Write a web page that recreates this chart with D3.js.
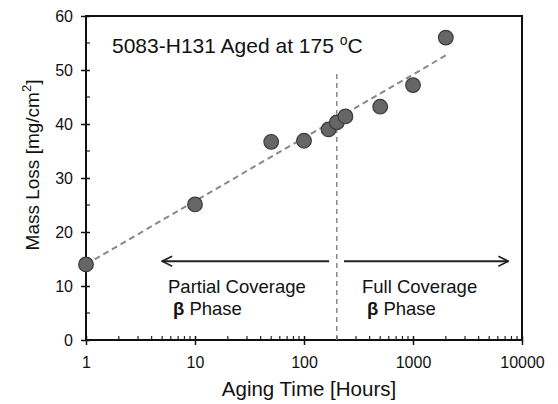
<!DOCTYPE html>
<html><head><meta charset="utf-8">
<script src="https://cdn.jsdelivr.net/npm/d3@7"></script>
<style>body{margin:0;background:#fff}svg{display:block}text{font-family:"Liberation Sans",Arial,sans-serif;fill:#111}</style>
</head><body><svg id="c" width="558" height="404"></svg>
<script>
const hours = [1, 10, 50, 100, 168, 200, 240, 500, 1000, 2000];
const massLoss = [14.0, 25.1, 36.7, 36.9, 39.0, 40.3, 41.4, 43.2, 47.2, 56.0];
const trendHours = [1, 2000];
const trendLoss = [14.0, 52.7];
const boundaryHours = 200;
const boundaryLoss = [0, 50];
const xTicks = [1, 10, 100, 1000, 10000];
const yTicks = [0, 10, 20, 30, 40, 50, 60];
const arrowLoss = 14.6;
const leftArrow = [170, 5];
const rightArrow = [233, 7500];

const svg = d3.select("#c");
const m = {l: 86, r: 522, t: 16, b: 340};
const x = d3.scaleLog().domain([1, 10000]).range([m.l, m.r]);
const y = d3.scaleLinear().domain([0, 60]).range([m.b, m.t]);

// minor ticks
const xMinor = [];
for (let d = 1; d < 10000; d *= 10) for (let k = 2; k <= 9; k++) xMinor.push(d * k);
svg.append("g").selectAll("line").data(xMinor).join("line")
  .attr("x1", d => x(d)).attr("x2", d => x(d)).attr("y1", m.b).attr("y2", m.b - 4)
  .attr("stroke", "#222").attr("stroke-width", 1.2);
const yMinor = d3.range(5, 60, 10);
svg.append("g").selectAll("line").data(yMinor).join("line")
  .attr("x1", m.l).attr("x2", m.l + 4).attr("y1", d => y(d)).attr("y2", d => y(d))
  .attr("stroke", "#222").attr("stroke-width", 1.2);

// frame
svg.append("rect").attr("x", m.l).attr("y", m.t).attr("width", m.r - m.l).attr("height", m.b - m.t)
  .attr("fill", "none").attr("stroke", "#111").attr("stroke-width", 2);

// axes
const xAxis = d3.axisBottom(x).tickValues(xTicks).tickFormat(d3.format("d")).tickSize(5).tickPadding(12);
const gx = svg.append("g").attr("transform", `translate(0,${m.b})`).call(xAxis);
gx.select(".domain").remove();
gx.selectAll(".tick line").attr("y1", -4).attr("stroke", "#111").attr("stroke-width", 1.5);
gx.selectAll(".tick text").attr("font-size", 16).attr("fill", "#111");

const yAxis = d3.axisLeft(y).tickValues(yTicks).tickSize(5).tickPadding(8);
const gy = svg.append("g").attr("transform", `translate(${m.l},0)`).call(yAxis);
gy.select(".domain").remove();
gy.selectAll(".tick line").attr("x1", 4).attr("stroke", "#111").attr("stroke-width", 1.5);
gy.selectAll(".tick text").attr("font-size", 16).attr("fill", "#111");

// boundary line
svg.append("line").attr("x1", x(boundaryHours)).attr("x2", x(boundaryHours))
  .attr("y1", y(boundaryLoss[0])).attr("y2", y(boundaryLoss[1]))
  .attr("stroke", "#777").attr("stroke-width", 1.3).attr("stroke-dasharray", "5,4");

// trend
svg.append("path").datum(trendHours.map((h, i) => [h, trendLoss[i]]))
  .attr("d", d3.line().x(d => x(d[0])).y(d => y(d[1])))
  .attr("fill", "none").attr("stroke", "#888").attr("stroke-width", 2).attr("stroke-dasharray", "6,4");

// arrows
const defs = svg.append("defs");
defs.append("marker").attr("id", "ah").attr("viewBox", "0 0 12 12").attr("refX", 11).attr("refY", 6)
  .attr("markerWidth", 12).attr("markerHeight", 12).attr("markerUnits", "userSpaceOnUse").attr("orient", "auto")
  .append("path").attr("d", "M1,1 L11,6 L1,11").attr("fill", "none").attr("stroke", "#222").attr("stroke-width", 1.6);
[leftArrow, rightArrow].forEach(a => {
  svg.append("line").attr("x1", x(a[0])).attr("x2", x(a[1])).attr("y1", y(arrowLoss)).attr("y2", y(arrowLoss))
    .attr("stroke", "#222").attr("stroke-width", 2).attr("marker-end", "url(#ah)");
});

// points
svg.append("g").selectAll("circle").data(hours.map((h, i) => [h, massLoss[i]])).join("circle")
  .attr("cx", d => x(d[0])).attr("cy", d => y(d[1])).attr("r", 7.3)
  .attr("fill", "#666").attr("stroke", "#3a3a3a").attr("stroke-width", 1.2);

// title
const t = svg.append("text").attr("x", 112).attr("y", 53).attr("font-size", 21);
t.append("tspan").text("5083-H131 Aged at 175 ");
t.append("tspan").attr("font-size", 14).attr("dy", -8).text("o");
t.append("tspan").attr("dy", 8).text("C");

// annotations
function note(x0, line1) {
  svg.append("text").attr("x", x0).attr("y", 293).attr("font-size", 18.5).text(line1);
  const b = svg.append("text").attr("x", x0 + 5).attr("y", 315).attr("font-size", 18.5);
  b.append("tspan").attr("font-weight", "bold").text("β");
  b.append("tspan").text(" Phase");
}
note(168, "Partial Coverage");
note(362, "Full Coverage");

// axis titles
svg.append("text").attr("x", 309).attr("y", 396).attr("text-anchor", "middle").attr("font-size", 20.5)
  .text("Aging Time [Hours]");
const yt = svg.append("text").attr("transform", `translate(39,165) rotate(-90)`)
  .attr("text-anchor", "middle").attr("font-size", 19);
yt.append("tspan").text("Mass Loss [mg/cm");
yt.append("tspan").attr("font-size", 13).attr("dy", -8).text("2");
yt.append("tspan").attr("dy", 8).text("]");
</script></body></html>
